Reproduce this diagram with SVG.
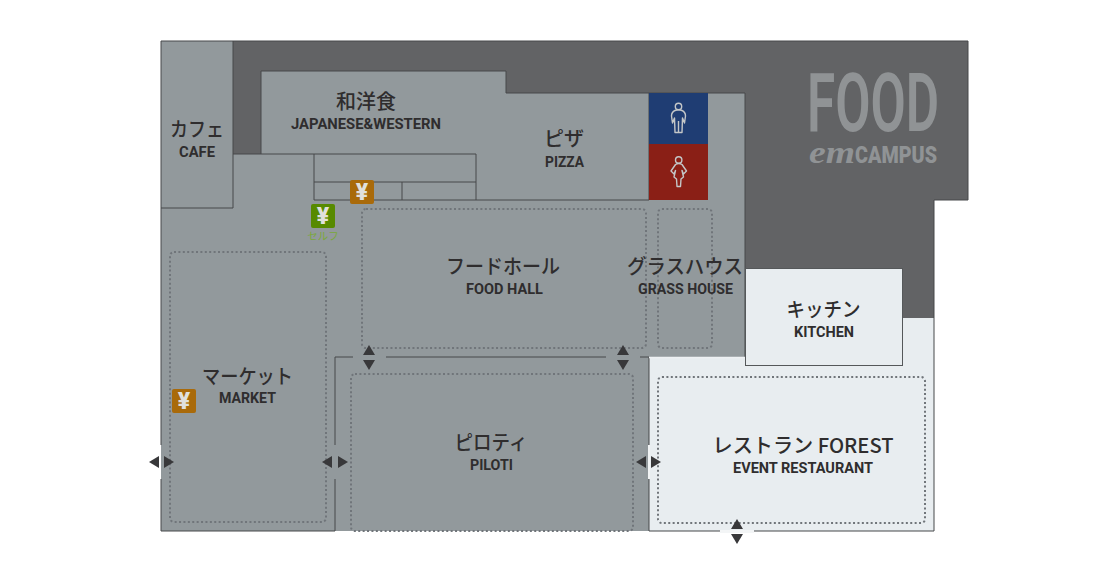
<svg xmlns="http://www.w3.org/2000/svg" width="1118" height="580" viewBox="0 0 1118 580">
<style>
.ln{fill:none;stroke:#47484a;stroke-width:1}
.dot{fill:none;stroke:#70757a;stroke-width:2;stroke-dasharray:2 2.400}
.ja{font-family:"Noto Sans CJK JP","Noto Sans",sans-serif;font-size:20px;font-weight:500;fill:#2f2d2e;text-anchor:middle}
.en{font-family:Roboto,"Liberation Sans",sans-serif;font-size:14px;font-weight:700;fill:#2f2d2e;text-anchor:middle}
.yen{font-family:Roboto,"Liberation Sans",sans-serif;font-size:23px;font-weight:900;fill:#e0e0dc;text-anchor:middle}
.arr{fill:#38383a}
.icon{fill:none;stroke:#c4c7c8;stroke-width:1.400;stroke-linejoin:round}
</style>
<defs>
<polygon id="up" points="0,-5 -6,5 6,5"/>
<polygon id="dn" points="0,5 -6,-5 6,-5"/>
<polygon id="lf" points="-5,0 5,-6 5,6"/>
<polygon id="rt" points="5,0 -5,-6 -5,6"/>
</defs>
<g id="base">
<polygon points="161,41 968,41 968,200 934,200 934,318 745,318 745,93 506,93 506,71 261,71 261,154 233,154 233,41" fill="#626365"/>
<polygon points="649,357 745,357 745,318 934,318 934,531 649,531" fill="#e8edf0"/>
<polygon points="161,41 233,41 233,154 261,154 261,71 506,71 506,93 745,93 745,357 649,357 649,531 161,531" fill="#92999c"/>
<polyline class="ln" points="968,41 968,200 934,200 934,531 649,531 649,357"/>
<path class="ln" d="M161,41H968M161,41V531H335V357H649M233,41V208H161M233,154H476M261,154V71H506V93H745V357"/>
<path class="ln" d="M314,154V200H649V93M314,182H476M402,182V200M476,154V200"/>
<line x1="649" y1="357.500" x2="745" y2="357.500" stroke="#eef1f3" stroke-width="1.500"/>
</g>
<g id="gaps" fill="#92999c">
<rect x="160" y="445" width="2" height="34" fill="#ffffff"/>
<rect x="161" y="445" width="2" height="34"/>
<rect x="333" y="445" width="4" height="34"/>
<rect x="648" y="445" width="2" height="34" fill="#f1f3f4"/>
<rect x="353" y="355" width="33" height="4"/>
<rect x="606" y="355" width="34" height="4"/>
<rect x="720" y="530" width="34" height="3" fill="#f3f5f6"/>
</g>
<g id="zones">
<rect class="dot" x="170" y="252" width="156" height="270" rx="4"/>
<rect class="dot" x="362" y="209" width="284" height="139" rx="4"/>
<rect class="dot" x="658" y="209" width="54" height="139" rx="4"/>
<rect class="dot" x="351" y="374" width="282" height="157" rx="4"/>
<rect class="dot" x="658" y="377" width="267" height="146" rx="4"/>
</g>
<g id="node-cafe"><text class="ja" x="197" y="137" textLength="54" lengthAdjust="spacingAndGlyphs">カフェ</text><text class="en" x="197" y="157" textLength="36" lengthAdjust="spacingAndGlyphs">CAFE</text></g>
<g id="node-washoku"><text class="ja" x="366" y="109">和洋食</text><text class="en" x="366" y="129" textLength="150" lengthAdjust="spacingAndGlyphs">JAPANESE&amp;WESTERN</text></g>
<g id="node-pizza"><text class="ja" x="564" y="146">ピザ</text><text class="en" x="564.500" y="167" textLength="39" lengthAdjust="spacingAndGlyphs">PIZZA</text></g>
<g id="node-foodhall"><text class="ja" x="503" y="274" textLength="114" lengthAdjust="spacingAndGlyphs">フードホール</text><text class="en" x="504.500" y="294" textLength="77" lengthAdjust="spacingAndGlyphs">FOOD HALL</text></g>
<g id="node-grasshouse"><text class="ja" x="685" y="274" textLength="116" lengthAdjust="spacingAndGlyphs">グラスハウス</text><text class="en" x="685.500" y="294" textLength="95" lengthAdjust="spacingAndGlyphs">GRASS HOUSE</text></g>
<g id="node-kitchen"><rect x="745.500" y="268.500" width="157" height="97" fill="#e8edf0" stroke="#55585a" stroke-width="1"/><text class="ja" x="823.500" y="317" textLength="74" lengthAdjust="spacingAndGlyphs">キッチン</text><text class="en" x="824" y="337" textLength="60" lengthAdjust="spacingAndGlyphs">KITCHEN</text></g>
<g id="node-market"><text class="ja" x="247.500" y="384" textLength="91" lengthAdjust="spacingAndGlyphs">マーケット</text><text class="en" x="247.500" y="403" textLength="57" lengthAdjust="spacingAndGlyphs">MARKET</text></g>
<g id="node-piloti"><text class="ja" x="491" y="450" textLength="73" lengthAdjust="spacingAndGlyphs">ピロティ</text><text class="en" x="491.500" y="470" textLength="43" lengthAdjust="spacingAndGlyphs">PILOTI</text></g>
<g id="node-forest"><text class="ja" x="803" y="453" font-weight="400" textLength="181" lengthAdjust="spacingAndGlyphs">レストラン FOREST</text><text class="en" x="803" y="473" textLength="140" lengthAdjust="spacingAndGlyphs">EVENT RESTAURANT</text></g>
<g id="node-male-wc"><rect x="649" y="93" width="59" height="51" fill="#1f3d73"/>
<circle class="icon" cx="678.500" cy="106.500" r="3.200"/>
<path class="icon" d="M675,110.500Q678.500,109 682,110.500Q685.500,112 685.500,116L684.500,123L682.500,118L682,132.500L675,132.500L674.500,118L672.500,123L671.500,116Q671.500,112 675,110.500ZM678.500,121V132"/></g>
<g id="node-female-wc"><rect x="649" y="144" width="59" height="56" fill="#8a1f16"/>
<circle class="icon" cx="678.700" cy="160" r="3.200"/>
<path class="icon" d="M675.500,164.500Q678.700,162.500 682,164.500L686.500,171L683.500,174L682,170.500L683.500,177L681,179L680.500,186.500H677L676.500,179L674,177L675.500,170.500L674,174L671,171Z"/></g>
<g id="node-yen1"><rect x="350" y="180" width="24" height="24" rx="2" fill="#a96a0a"/><text class="yen" x="362" y="200">¥</text></g>
<g id="node-yen2"><rect x="311" y="204" width="24" height="24" rx="2" fill="#578a00"/><text class="yen" x="323" y="224">¥</text><text x="323" y="240" font-family="'Noto Sans CJK JP',sans-serif" font-size="10.500px" fill="#7aa83a" text-anchor="middle">セルフ</text></g>
<g id="node-yen3"><rect x="172" y="389" width="24" height="24" rx="2" fill="#a96a0a"/><text class="yen" x="184" y="409">¥</text></g>
<g id="logo" fill="#909395">
<text x="807" y="131" font-family="Roboto,sans-serif" font-size="81px" font-weight="600" textLength="132" lengthAdjust="spacingAndGlyphs">FOOD</text>
<text x="809" y="163" font-family="'Liberation Serif',serif" font-style="italic" font-weight="700" font-size="32px" textLength="46" lengthAdjust="spacingAndGlyphs">em</text>
<text x="855" y="163" font-family="Roboto,sans-serif" font-size="23px" font-weight="900" textLength="82" lengthAdjust="spacingAndGlyphs">CAMPUS</text>
</g>
<g id="connectors" class="arr">
<use href="#lf" x="154" y="462"/><use href="#rt" x="169" y="462"/>
<use href="#lf" x="327" y="462"/><use href="#rt" x="343" y="462"/>
<use href="#lf" x="641" y="462"/><use href="#rt" x="656" y="462"/>
<use href="#up" x="369" y="350"/><use href="#dn" x="369" y="365"/>
<use href="#up" x="623" y="350"/><use href="#dn" x="623" y="365"/>
<use href="#up" x="737" y="524"/><use href="#dn" x="737" y="539"/>
</g>
</svg>
